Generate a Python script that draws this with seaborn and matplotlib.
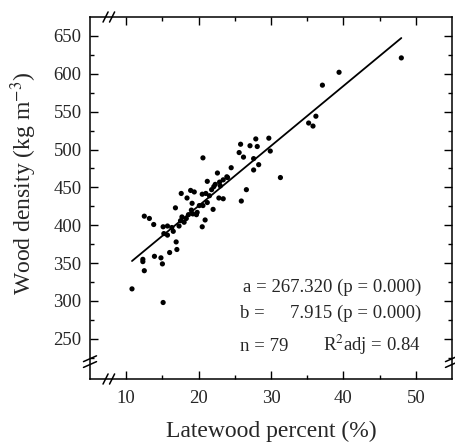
import matplotlib
matplotlib.use("Agg")
import matplotlib.pyplot as plt
import numpy as np
import pandas as pd
import seaborn as sns

# Latewood percent (%) and wood density (kg m-3)
latewood = [10.8, 12.3, 12.3, 12.5, 12.5, 13.2, 13.8, 13.9, 14.8, 15.0,
            15.1, 15.1, 15.7, 15.2, 15.7, 16.0, 16.3, 16.9, 17.0, 16.8,
            17.3, 17.6, 17.7, 18.0, 18.3, 18.4, 18.6, 18.9, 19.1, 19.2,
            19.4, 19.7, 19.8, 20.1, 20.5, 20.6, 20.6, 20.5, 20.9, 21.0,
            21.2, 21.2, 21.5, 22.0, 22.1, 22.3, 22.6, 22.8, 22.9, 23.4,
            23.4, 23.9, 24.0, 24.5, 25.6, 25.8, 25.9, 26.2, 26.6, 27.1,
            27.6, 27.6, 27.9, 28.1, 28.3, 29.7, 29.9, 31.3, 35.2, 35.8,
            36.2, 37.1, 39.4, 48.0, 16.5, 17.5, 19.0, 21.8, 23.0]
density = [316, 355, 352, 340, 412, 409, 401, 359, 357, 349,
           298, 398, 399, 389, 387, 364, 397, 378, 368, 423,
           399, 442, 411, 404, 409, 436, 414, 446, 429, 415,
           444, 414, 417, 426, 398, 489, 426, 441, 407, 442,
           430, 458, 439, 421, 451, 454, 469, 436, 457, 435,
           460, 464, 463, 476, 496, 507, 432, 490, 447, 505,
           488, 473, 514, 504, 480, 515, 498, 463, 535, 531,
           544, 585, 602, 621, 392, 406, 420, 447, 452]

# regression coefficients as printed on the chart
a_coef = 267.320
b_coef = 7.915

xticks = [10, 20, 30, 40, 50]
yticks = [250, 300, 350, 400, 450, 500, 550, 600, 650]

df = pd.DataFrame({"latewood": latewood, "density": density})
x_fit = np.array([min(latewood), max(latewood)])
df_fit = pd.DataFrame({"x": x_fit, "y": a_coef + b_coef * x_fit})

sns.set_style("ticks")
plt.rcParams["font.family"] = ["Liberation Serif", "DejaVu Serif"]
plt.rcParams["mathtext.fontset"] = "stix"

fig = plt.figure(figsize=(4.56, 4.42), dpi=100)
ax = fig.add_axes([90 / 456, 1 - 379 / 442, 362 / 456, 362 / 442])

sns.scatterplot(data=df, x="latewood", y="density", ax=ax, color="black",
                s=14, edgecolor="none")
sns.lineplot(data=df_fit, x="x", y="y", ax=ax, color="black", linewidth=1.3)

ax.set_xlim(5, 55)
ax.set_ylim(197, 675)
ax.set_xticks(xticks)
ax.set_yticks(yticks)
ax.set_xticks(np.arange(15, 55, 10), minor=True)
ax.set_yticks(np.arange(225, 675, 50), minor=True)
ax.tick_params(which="both", direction="in", top=True, right=True,
               labelsize=13.5, color="black", width=1)
ax.tick_params(which="major", length=6)
ax.tick_params(which="minor", length=3)
ax.tick_params(axis="y", pad=6)
ax.tick_params(axis="x", pad=8)
for sp in ax.spines.values():
    sp.set_visible(True)
    sp.set_linewidth(1.1)
    sp.set_color("black")

ax.set_xlabel("Latewood percent (%)", fontsize=17)
ax.set_ylabel("Wood density (kg m$^{-3}$)", fontsize=17)
ax.xaxis.set_label_coords(0.5, -0.115)
ax.yaxis.set_label_coords(-0.14, 0.54)

# axis break marks
kw = dict(color="black", linewidth=1.1, clip_on=False, transform=ax.transAxes)
for dx in (0.036, 0.054):
    ax.plot([dx, dx + 0.014], [1 - 0.014, 1 + 0.014], **kw)
    ax.plot([dx, dx + 0.014], [-0.014, 0.014], **kw)
for dy in (0.04, 0.056):
    ax.plot([-0.018, 0.018], [dy - 0.008, dy + 0.008], **kw)
    ax.plot([1 - 0.018, 1 + 0.018], [dy - 0.008, dy + 0.008], **kw)

# statistics text
fs = 13.5
ax.text(0.916, 0.241, "a = 267.320 (p = 0.000)", transform=ax.transAxes,
        ha="right", va="baseline", fontsize=fs)
ax.text(0.414, 0.168, "b =", transform=ax.transAxes,
        ha="left", va="baseline", fontsize=fs)
ax.text(0.916, 0.168, "7.915 (p = 0.000)", transform=ax.transAxes,
        ha="right", va="baseline", fontsize=fs)
ax.text(0.414, 0.078, "n = 79", transform=ax.transAxes,
        ha="left", va="baseline", fontsize=fs)
ax.text(0.644, 0.078, "R$^{2}$adj = 0.84", transform=ax.transAxes,
        ha="left", va="baseline", fontsize=fs)

fig.savefig("out.png", dpi=100)
